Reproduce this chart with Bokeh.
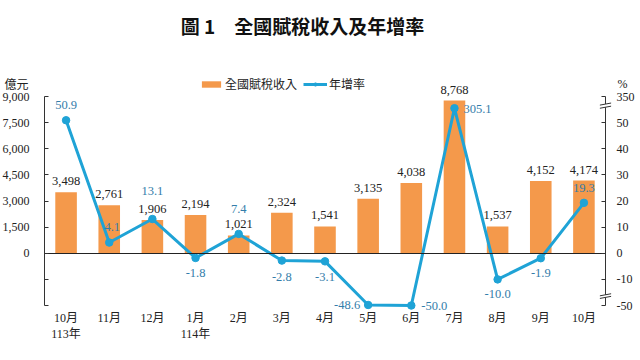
from bokeh.plotting import figure
from bokeh.models import (Range1d, LinearAxis, FixedTicker, ColumnDataSource,
                          Label, Legend, LegendItem, Arrow)
from bokeh.core.properties import value
from bokeh.embed import file_html
from bokeh.resources import INLINE

# ---------------- data ----------------
months = ["10月", "11月", "12月", "1月", "2月", "3月", "4月", "5月", "6月", "7月", "8月", "9月", "10月"]
years = ["113年", "", "", "114年", "", "", "", "", "", "", "", "", ""]
revenue = [3498, 2761, 1906, 2194, 1021, 2324, 1541, 3135, 4038, 8768, 1537, 4152, 4174]
growth = [50.9, 4.1, 13.1, -1.8, 7.4, -2.8, -3.1, -48.6, -50.0, 305.1, -10.0, -1.9, 19.3]
rev_ticks = [-3000, -1500, 0, 1500, 3000, 4500, 6000, 7500, 9000]
rate_ticks = [-50, -10, 0, 10, 20, 30, 40, 50, 350]
title_text = "圖 1　全國賦稅收入及年增率"
bar_name = "全國賦稅收入"
line_name = "年增率"
left_unit = "億元"
right_unit = "%"

# ---------------- style ----------------
ORANGE = "#F4994B"
BLUE = "#1FA3D6"
LBL_BLUE = "#337DAA"
TXT = "#222222"
AX = "#333333"
SERIF = "Liberation Serif"
MIX = "'Liberation Serif', 'Noto Sans CJK TC'"
CJK = "Noto Sans CJK TC"

# label placement per growth point (pixels): dx, dy, align
lab_dx = [0, 3, 0, 0, 0, 0, 0, -8, 10, 9, 0, 0, 0]
lab_dy = [-15, -16, -28, 15, -25, 16, 16, 0, 0, 1, 15, 15, -15]
lab_al = ["center", "center", "center", "center", "center", "center", "center",
          "right", "left", "left", "center", "center", "center"]


def rate_pos(v):
    """Broken right axis: -50..-15 squeezed, 55..300 collapsed."""
    if v > 55:
        return 55 + (v - 300) * 0.1
    if v < -15:
        return -20 + (v + 50) * (5 / 35)
    return v


N = len(months)
xs = [i + 0.5 for i in range(N)]
tick_labels = {x: (m + ("\n" + y if y else "")) for x, m, y in zip(xs, months, years)}

# canvas geometry (px): plot area left/right, y of 9000 and of -3000
W, H = 640, 360
PL, PR, PT, PB = 44, 605, 96, 305
sx = (PR - PL) / N
sy = (PB - PT) / (rev_ticks[-1] - rev_ticks[0])
X0, X1 = -PL / sx, N + (W - PR) / sx
Y1 = rev_ticks[-1] + PT / sy
Y0 = rev_ticks[0] - (H - PB) / sy


def dx_(px):
    return X0 + px / sx


def dy_(py):
    return Y1 - py / sy


p = figure(width=W, height=H, x_range=Range1d(X0, X1), y_range=Range1d(Y0, Y1),
           output_backend="svg", toolbar_location=None,
           min_border=0, x_axis_location=None, y_axis_location=None)
p.extra_y_ranges = {"rate": Range1d(Y0 / 150, Y1 / 150)}
p.outline_line_color = None
p.xgrid.visible = False
p.ygrid.visible = False
p.background_fill_color = "white"

# left axis (revenue)
ya = LinearAxis(fixed_location=0, bounds=(rev_ticks[0], rev_ticks[-1]),
                ticker=FixedTicker(ticks=rev_ticks))
ya.major_label_overrides = {t: (f"{t:,}" if t >= 0 else "") for t in rev_ticks}
ya.major_tick_in = 4
ya.major_tick_out = 0
ya.minor_tick_line_color = None
ya.axis_line_color = AX
ya.major_tick_line_color = AX
ya.major_label_text_font = SERIF
ya.major_label_text_font_size = "12px"
ya.major_label_text_color = TXT
ya.major_label_standoff = 15
p.add_layout(ya, "left")

# right axis (growth, broken)
rpos = [rate_pos(t) for t in rate_ticks]
ra = LinearAxis(y_range_name="rate", fixed_location=N,
                bounds=(rate_pos(rate_ticks[0]), rate_pos(rate_ticks[-1])),
                ticker=FixedTicker(ticks=rpos))
ra.major_label_overrides = {int(round(rp)): str(t) for rp, t in zip(rpos, rate_ticks)}
ra.major_tick_in = 4
ra.major_tick_out = 0
ra.minor_tick_line_color = None
ra.axis_line_color = AX
ra.major_tick_line_color = AX
ra.major_label_text_font = SERIF
ra.major_label_text_font_size = "12px"
ra.major_label_text_color = TXT
ra.major_label_standoff = 11
p.add_layout(ra, "right")

# category axis at the bottom
xa = LinearAxis(fixed_location=rev_ticks[0], ticker=FixedTicker(ticks=xs), bounds=(0, N))
xa.axis_line_color = None
xa.major_tick_line_color = None
xa.major_tick_out = 0
xa.minor_tick_line_color = None
xa.major_label_overrides = tick_labels
xa.major_label_text_font = MIX
xa.major_label_text_font_size = "12px"
xa.major_label_text_color = TXT
xa.major_label_standoff = 5
p.add_layout(xa, "below")

# zero line as an unlabeled axis
za = LinearAxis(fixed_location=0, bounds=(0, N), ticker=FixedTicker(ticks=[]))
za.axis_line_color = "#222222"
za.axis_line_width = 1
za.minor_tick_line_color = None
za.major_tick_line_color = None
p.add_layout(za, "below")

src = ColumnDataSource(dict(
    x=xs, rev=revenue, rev_txt=[f"{v:,}" for v in revenue],
    rate=[rate_pos(g) for g in growth], rate_txt=[f"{g:.1f}" for g in growth],
    dx=lab_dx, dy=lab_dy, al=lab_al))

bars = p.vbar(x="x", top="rev", width=0.5, fill_color=ORANGE, line_color=None, source=src)
p.text(x="x", y="rev", text="rev_txt", text_align="center", text_baseline="bottom",
       y_offset=-7, text_font=value(SERIF), text_font_size="12.5px", text_color=TXT, source=src)

ln = p.line(x="x", y="rate", y_range_name="rate", line_color=BLUE, line_width=3, source=src)
pts = p.scatter(x="x", y="rate", y_range_name="rate", size=7.5, fill_color=BLUE,
                line_color=BLUE, source=src)
p.text(x="x", y="rate", text="rate_txt", x_offset="dx", y_offset="dy", text_align="al",
       text_baseline="middle", y_range_name="rate", text_font=value(SERIF),
       text_font_size="12.5px", text_color=LBL_BLUE, source=src)

# axis break marks on the right axis
for lo, hi in [(55.9, 57.1), (-16.9, -15.9)]:
    p.add_layout(Arrow(end=None, x_start=N, x_end=N, y_start=lo, y_end=hi,
                       y_range_name="rate", line_color="white", line_width=3))
    for yy in (lo, hi):
        p.add_layout(Arrow(end=None, x_start=N - 0.13, x_end=N + 0.13,
                           y_start=yy - 0.4, y_end=yy + 0.4,
                           y_range_name="rate", line_color=AX, line_width=1))

# legend (location relative to the plot area's bottom-left)
legend = Legend(items=[LegendItem(label=bar_name, renderers=[bars]),
                       LegendItem(label=line_name, renderers=[ln, pts])],
                orientation="horizontal", location=(199, H - 92), glyph_width=24,
                glyph_height=8, label_height=14, label_standoff=2, spacing=6, padding=0,
                margin=0, border_line_color=None, background_fill_alpha=0,
                label_text_font=CJK, label_text_font_size="12px", label_text_color=TXT)
p.add_layout(legend, "center")

# title and units
p.add_layout(Label(x=dx_(302), y=dy_(25), text=title_text,
                   text_align="center", text_baseline="middle", text_font=CJK,
                   text_font_size="19px", text_font_style="bold", text_color="#111111"))
p.add_layout(Label(x=dx_(4), y=dy_(83), text=left_unit, text_align="left",
                   text_baseline="middle", text_font=CJK, text_font_size="12px", text_color=TXT))
p.add_layout(Label(x=dx_(617), y=dy_(83), text=right_unit, text_align="left",
                   text_baseline="middle", text_font=SERIF, text_font_size="12px", text_color=TXT))

open("out.html", "w").write(file_html(p, INLINE))
